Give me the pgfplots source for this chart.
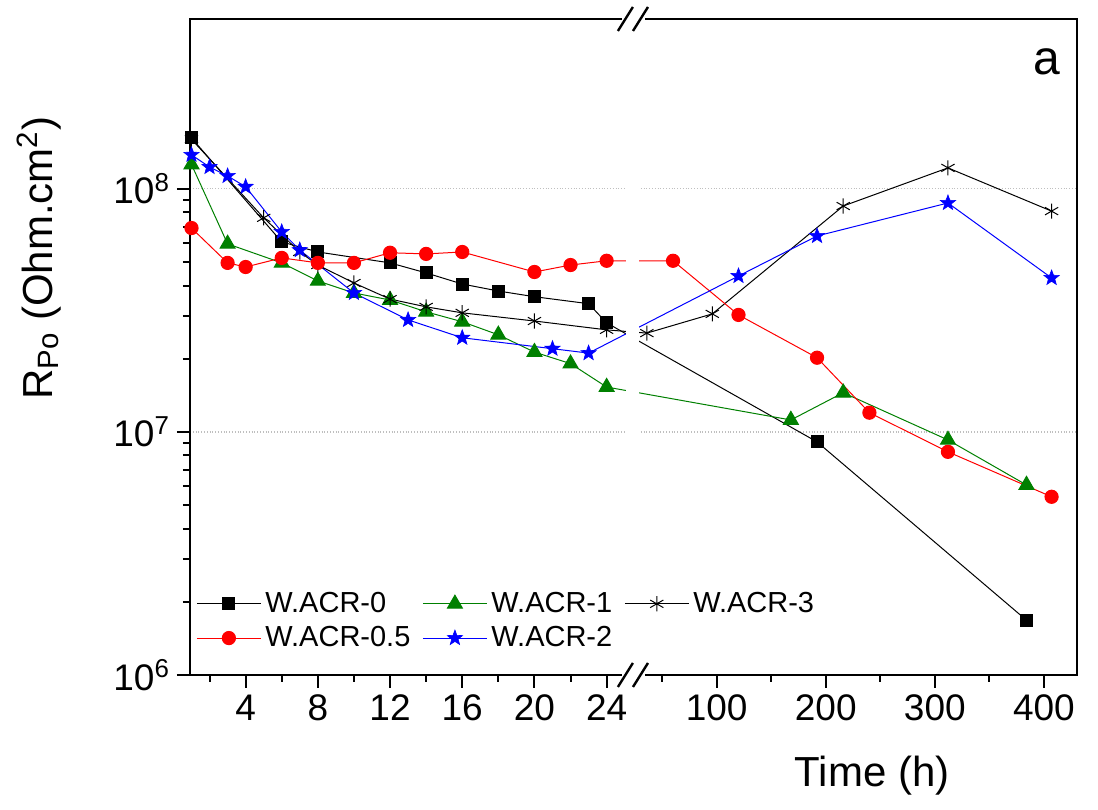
\documentclass[border=0pt]{standalone}
\usepackage{fontspec}
\setmainfont{Liberation Sans}
\usepackage{pgfplots}
\pgfplotsset{compat=1.18}
\usepackage{pgfplotstable}

\pgfdeclareplotmark{fstar}{%
  \pgfpathmoveto{\pgfpointpolar{90}{\pgfplotmarksize}}%
  \pgfpathlineto{\pgfpointpolar{126}{0.42\pgfplotmarksize}}%
  \pgfpathlineto{\pgfpointpolar{162}{\pgfplotmarksize}}%
  \pgfpathlineto{\pgfpointpolar{198}{0.42\pgfplotmarksize}}%
  \pgfpathlineto{\pgfpointpolar{234}{\pgfplotmarksize}}%
  \pgfpathlineto{\pgfpointpolar{270}{0.42\pgfplotmarksize}}%
  \pgfpathlineto{\pgfpointpolar{306}{\pgfplotmarksize}}%
  \pgfpathlineto{\pgfpointpolar{342}{0.42\pgfplotmarksize}}%
  \pgfpathlineto{\pgfpointpolar{18}{\pgfplotmarksize}}%
  \pgfpathlineto{\pgfpointpolar{54}{0.42\pgfplotmarksize}}%
  \pgfpathclose\pgfusepathqfillstroke}

% time (h) and R_Po (Ohm.cm^2)
\pgfplotstableread{
t R
1 1.62e8
6 6.05e7
8 5.5e7
12 4.96e7
14 4.51e7
16 4.06e7
18 3.8e7
20 3.6e7
23 3.37e7
24 2.81e7
192 9.1e6
384 1.68e6
}\tZero
\pgfplotstableread{
t R
1 1.26e8
3 5.94e7
6 4.96e7
8 4.18e7
10 3.73e7
12 3.49e7
14 3.12e7
16 2.84e7
18 2.51e7
20 2.13e7
22 1.91e7
24 1.53e7
168 1.12e7
216 1.45e7
312 9.27e6
384 6.05e6
}\tOne
\pgfplotstableread{
t R
1 1.6e8
5 7.6e7
7 5.5e7
8 4.86e7
10 4.1e7
12 3.52e7
14 3.27e7
16 3.09e7
20 2.86e7
24 2.63e7
36 2.55e7
96 3.06e7
216 8.5e7
312 1.22e8
407 8.1e7
}\tThree
\pgfplotstableread{
t R
1 6.9e7
3 4.96e7
4 4.77e7
6 5.2e7
8 4.96e7
10 4.96e7
12 5.46e7
14 5.4e7
16 5.5e7
20 4.55e7
22 4.86e7
24 5.06e7
60 5.06e7
120 3.03e7
192 2.02e7
240 1.2e7
312 8.28e6
407 5.41e6
}\tHalf
\pgfplotstableread{
t R
1 1.38e8
2 1.23e8
3 1.13e8
4 1.02e8
6 6.65e7
7 5.6e7
10 3.73e7
13 2.89e7
16 2.44e7
21 2.2e7
23 2.11e7
120 4.38e7
192 6.4e7
312 8.75e7
407 4.3e7
}\tTwo

\definecolor{ogreen}{RGB}{0,128,0}

\pgfplotsset{
  legimg/.style={legend image code/.code={\draw[mark repeat=2,mark phase=2,##1] plot coordinates {(0pt,0pt) (16pt,0pt) (32pt,0pt)};}},
}

\begin{document}
\begin{tikzpicture}
\useasboundingbox (-95pt,-67pt) rectangle (454pt,337.5pt);
\begin{axis}[
  at={(0pt,0pt)}, anchor=south west,
  scale only axis, width=443.5pt, height=328pt,
  ymode=log, ymin=1e6, ymax=5e8,
  xmin=0.917, xmax=50.06,
  xtick={4,8,12,16,20,24,30.097,36.141,42.185,48.229},
  xticklabels={4,8,12,16,20,24,100,200,300,400},
  minor xtick={2,6,10,14,18,22,27.075,33.119,39.163,45.207},
  ytick={1e6,1e7,1e8},
  yticklabels={10\textsuperscript{6},10\textsuperscript{7},10\textsuperscript{8}},
  tick pos=left, tick align=outside,
  major tick length=6.5pt, minor tick length=3.5pt,
  axis line style={line width=1.3pt},
  every tick/.style={line width=1pt, black},
  ymajorgrids, major grid style={densely dotted, black!25, line width=0.6pt},
  tick label style={font=\fontsize{18.5}{22}\selectfont},
  /pgf/number format/assume math mode=true,
  xlabel={Time (h)},
  xlabel style={font=\fontsize{21}{25}\selectfont, at={(axis description cs:0.769,-0.153)}, anchor=center},
  ylabel={R\textsubscript{Po} (Ohm.cm\textsuperscript{2})},
  ylabel style={font=\fontsize{21}{25}\selectfont, at={(axis description cs:-0.17,0.635)}, anchor=center},
  clip=false,
  legend columns=3,
  legend style={draw=none, fill=none, at={(axis description cs:0.0,0.139)}, anchor=north west,
    font=\fontsize{14.5}{17}\selectfont, row sep=1.5pt,
    /tikz/every even column/.append style={column sep=4pt}},
  legend cell align=left,
]
\addplot[black, line width=0.5pt, mark=square*, mark size=3pt, mark options={solid, fill=black}, legimg] table[x expr={\thisrow{t}+(\thisrow{t}>28)*(24.053-0.93956*\thisrow{t})}, y=R] {\tZero};
\addlegendentry{W.ACR-0}
\addplot[ogreen, line width=0.5pt, mark=triangle*, mark size=4.3pt, mark options={solid, fill=ogreen}, legimg] table[x expr={\thisrow{t}+(\thisrow{t}>28)*(24.053-0.93956*\thisrow{t})}, y=R] {\tOne};
\addlegendentry{W.ACR-1}
\addplot[black, line width=0.5pt, mark=asterisk, mark size=3.8pt, mark options={solid, line width=0.5pt}, legimg] table[x expr={\thisrow{t}+(\thisrow{t}>28)*(24.053-0.93956*\thisrow{t})}, y=R] {\tThree};
\addlegendentry{W.ACR-3}
\addplot[red, line width=0.5pt, mark=*, mark size=3.3pt, mark options={solid, fill=red}, legimg] table[x expr={\thisrow{t}+(\thisrow{t}>28)*(24.053-0.93956*\thisrow{t})}, y=R] {\tHalf};
\addlegendentry{W.ACR-0.5}
\addplot[blue, line width=0.5pt, mark=fstar, mark size=4pt, mark options={solid, fill=blue, line width=0.3pt}, legimg] table[x expr={\thisrow{t}+(\thisrow{t}>28)*(24.053-0.93956*\thisrow{t})}, y=R] {\tTwo};
\addlegendentry{W.ACR-2}

% axis break
\fill[white] (axis cs:25.07,1e6) rectangle (axis cs:25.79,5e8);
\fill[white] ([yshift=-4pt]axis cs:24.85,1e6) rectangle ([yshift=4pt]axis cs:26.12,1e6);
\fill[white] ([yshift=-4pt]axis cs:24.85,5e8) rectangle ([yshift=4pt]axis cs:26.12,5e8);
\draw[line width=1.2pt] ([xshift=-3.75pt,yshift=-6pt]axis cs:25.04,1e6) -- ([xshift=3.75pt,yshift=6pt]axis cs:25.04,1e6);
\draw[line width=1.2pt] ([xshift=-3.75pt,yshift=-6pt]axis cs:25.875,1e6) -- ([xshift=3.75pt,yshift=6pt]axis cs:25.875,1e6);
\draw[line width=1.2pt] ([xshift=-3.75pt,yshift=-6pt]axis cs:25.04,5e8) -- ([xshift=3.75pt,yshift=6pt]axis cs:25.04,5e8);
\draw[line width=1.2pt] ([xshift=-3.75pt,yshift=-6pt]axis cs:25.875,5e8) -- ([xshift=3.75pt,yshift=6pt]axis cs:25.875,5e8);
\node[font=\fontsize{24}{28}\selectfont] at (rel axis cs:0.966,0.934) {a};
\end{axis}
\end{tikzpicture}
\end{document}
